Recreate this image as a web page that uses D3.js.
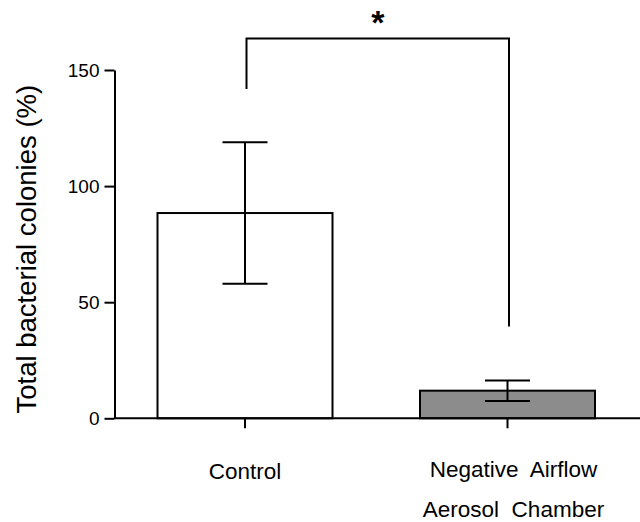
<!DOCTYPE html>
<html>
<head>
<meta charset="utf-8">
<script src="https://cdn.jsdelivr.net/npm/d3@7"></script>
<style>
  html, body { margin: 0; padding: 0; background: #fff; }
  svg { display: block; }
  text { font-family: "Liberation Sans", Arial, sans-serif; fill: #000; }
</style>
</head>
<body>
<svg id="chart" width="640" height="522"></svg>
<script>
const categories = ["Control", "Negative Airflow Aerosol Chamber"];
const categoryLines = [["Control"], ["Negative\u00a0 Airflow", "Aerosol\u00a0 Chamber"]];
const means = [88.4, 11.9];
const errors = [30.5, 4.4];
const fills = ["#ffffff", "#8c8c8c"];
const yTicks = [0, 50, 100, 150];
const yLabel = "Total bacterial colonies (%)";
const bracketEnds = [141.8, 39.5];
const bracketTop = 163.6;
const sigLabel = "*";

const svg = d3.select("#chart");
const y = d3.scaleLinear().domain([0, 150]).range([418.3, 70]);
const x = d3.scaleBand().domain(categories).range([157.5, 595]).paddingInner(1/3).paddingOuter(0);
const axisX = 114.5;

// bars
svg.selectAll("rect.bar").data(categories).join("rect")
  .attr("class", "bar")
  .attr("x", d => x(d))
  .attr("y", (d, i) => y(means[i]))
  .attr("width", x.bandwidth())
  .attr("height", (d, i) => y(0) - y(means[i]))
  .attr("fill", (d, i) => fills[i])
  .attr("stroke", "#000")
  .attr("stroke-width", 2);

// error bars
const cap = 22.5;
const eb = svg.append("g").attr("stroke", "#000").attr("stroke-width", 2);
categories.forEach((c, i) => {
  const cx = x(c) + x.bandwidth() / 2;
  eb.append("line").attr("x1", cx).attr("x2", cx)
    .attr("y1", y(means[i] + errors[i])).attr("y2", y(means[i] - errors[i]));
  eb.append("line").attr("x1", cx - cap).attr("x2", cx + cap)
    .attr("y1", y(means[i] + errors[i])).attr("y2", y(means[i] + errors[i]));
  eb.append("line").attr("x1", cx - cap).attr("x2", cx + cap)
    .attr("y1", y(means[i] - errors[i])).attr("y2", y(means[i] - errors[i]));
});

// x axis line and ticks
const xa = svg.append("g").attr("stroke", "#000").attr("stroke-width", 2);
xa.append("line").attr("x1", axisX).attr("x2", 640).attr("y1", y(0)).attr("y2", y(0));
categories.forEach(c => {
  const cx = x(c) + x.bandwidth() / 2;
  xa.append("line").attr("x1", cx).attr("x2", cx).attr("y1", y(0)).attr("y2", y(0) + 10);
});

// y axis
const yAxis = d3.axisLeft(y).tickValues(yTicks).tickSize(10).tickPadding(5).tickSizeOuter(0);
const gy = svg.append("g").attr("transform", `translate(${axisX},0)`).call(yAxis);
gy.select(".domain").attr("stroke", "#000").attr("stroke-width", 2);
gy.selectAll(".tick line").attr("stroke", "#000").attr("stroke-width", 2);
gy.selectAll(".tick text").style("font-size", "19px").attr("font-family", null);

// y label
svg.append("text")
  .attr("transform", `translate(36,${(y(0) + y(150)) / 2 + 5}) rotate(-90)`)
  .attr("text-anchor", "middle")
  .style("font-size", "27.5px")
  .text(yLabel);

// x labels
categories.forEach((c, i) => {
  const cx = x(c) + x.bandwidth() / 2 + (i === 1 ? 6 : 0);
  categoryLines[i].forEach((ln, j) => {
    svg.append("text")
      .attr("x", cx)
      .attr("y", (i === 0 ? 479 : 476.5) + j * 40)
      .attr("text-anchor", "middle")
      .style("font-size", "22.5px")
      .text(ln);
  });
});

// significance bracket
const cxs = categories.map(c => x(c) + x.bandwidth() / 2 + 1.5);
svg.append("path")
  .attr("d", d3.line()([[cxs[0], y(bracketEnds[0])], [cxs[0], y(bracketTop)], [cxs[1], y(bracketTop)], [cxs[1], y(bracketEnds[1])]]))
  .attr("fill", "none").attr("stroke", "#000").attr("stroke-width", 2);
svg.append("text")
  .attr("x", (cxs[0] + cxs[1]) / 2)
  .attr("y", 34)
  .attr("text-anchor", "middle")
  .style("font-size", "34px").style("font-weight", "bold")
  .text(sigLabel);
</script>
</body>
</html>
